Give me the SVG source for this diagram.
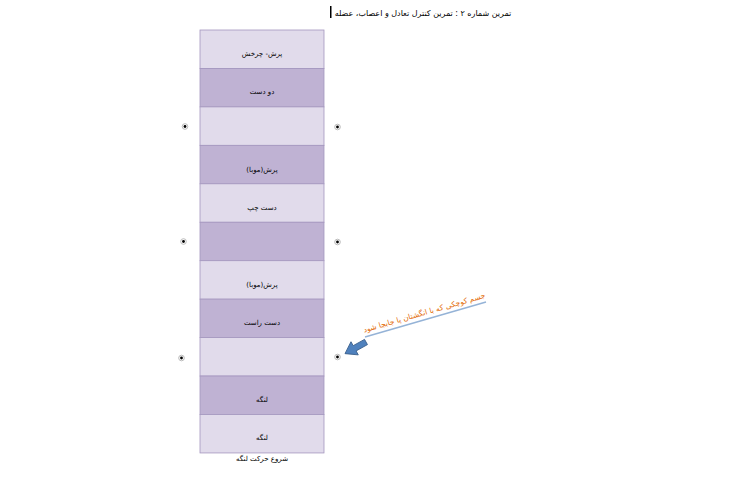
<svg xmlns="http://www.w3.org/2000/svg" width="750" height="480" viewBox="0 0 750 480">
<defs>
<style>
.l{fill:#E1DBEB;stroke:#A496BE;stroke-width:0.8}
.d{fill:#BFB2D3;stroke:#A496BE;stroke-width:0.8}
.t{font-family:"DejaVu Sans",sans-serif;font-size:7px;fill:#000;text-anchor:middle;direction:rtl}
.dotO{fill:#fff;stroke:#bbb;stroke-width:1}
.dotI{fill:#000}
</style>
</defs>
<rect width="750" height="480" fill="#fff"/>
<g id="title">
<text x="423" y="16" style="font-family:'DejaVu Sans',sans-serif;font-size:8px;text-anchor:middle;direction:rtl">تمرین شماره ۲ : تمرین کنترل تعادل و اعصاب، عضله</text>
<rect x="330" y="6" width="1.5" height="12" fill="#000"/>
</g>
<g id="row1"><rect class="l" x="200" y="30" width="124" height="38.45"/><text class="t" x="262" y="56">پرش- چرخش</text></g>
<g id="row2"><rect class="d" x="200" y="68.45" width="124" height="38.45"/><text class="t" x="262" y="94">دو دست</text></g>
<g id="row3"><rect class="l" x="200" y="106.9" width="124" height="38.45"/></g>
<g id="row4"><rect class="d" x="200" y="145.35" width="124" height="38.45"/><text class="t" x="262" y="172">پرش(موبا)</text></g>
<g id="row5"><rect class="l" x="200" y="183.8" width="124" height="38.45"/><text class="t" x="262" y="210">دست چپ</text></g>
<g id="row6"><rect class="d" x="200" y="222.25" width="124" height="38.45"/></g>
<g id="row7"><rect class="l" x="200" y="260.7" width="124" height="38.45"/><text class="t" x="262" y="287">پرش(موبا)</text></g>
<g id="row8"><rect class="d" x="200" y="299.15" width="124" height="38.45"/><text class="t" x="262" y="325">دست راست</text></g>
<g id="row9"><rect class="l" x="200" y="337.6" width="124" height="38.45"/></g>
<g id="row10"><rect class="d" x="200" y="376.05" width="124" height="38.45"/><text class="t" x="262" y="402">لنگه</text></g>
<g id="row11"><rect class="l" x="200" y="414.5" width="124" height="38.45"/><text class="t" x="262" y="440">لنگه</text></g>
<g id="start-label"><text class="t" x="262" y="461">شروع حرکت لنگه</text></g>
<g id="dots">
<circle class="dotO" cx="185" cy="126.5" r="2.8"/><circle class="dotI" cx="185" cy="126.5" r="1.4"/>
<circle class="dotO" cx="183.5" cy="241.5" r="2.8"/><circle class="dotI" cx="183.5" cy="241.5" r="1.4"/>
<circle class="dotO" cx="181.5" cy="358" r="2.8"/><circle class="dotI" cx="181.5" cy="358" r="1.4"/>
<circle class="dotO" cx="337.5" cy="127" r="2.8"/><circle class="dotI" cx="337.5" cy="127" r="1.4"/>
<circle class="dotO" cx="337.5" cy="242" r="2.8"/><circle class="dotI" cx="337.5" cy="242" r="1.4"/>
<circle class="dotO" cx="337.5" cy="357" r="2.8"/><circle class="dotI" cx="337.5" cy="357" r="1.4"/>
</g>
<g id="connectors">
<line x1="365" y1="337" x2="486" y2="302" stroke="#95B3D7" stroke-width="1.5"/>
<path d="M0,-3 L13,-3 L13,-7.5 L24,0 L13,7.5 L13,3 L0,3 Z" transform="translate(366,342) rotate(151)" fill="#4F81BD" stroke="#385D8A" stroke-width="0.8"/>
</g>
<g id="annotation">
<text x="425" y="315" transform="rotate(-16 425 315)" style="font-family:'DejaVu Sans',sans-serif;font-size:7.5px;fill:#E36C09;text-anchor:middle;direction:rtl">جسم کوچکی که با انگشتان پا جابجا شود</text>
</g>
</svg>
